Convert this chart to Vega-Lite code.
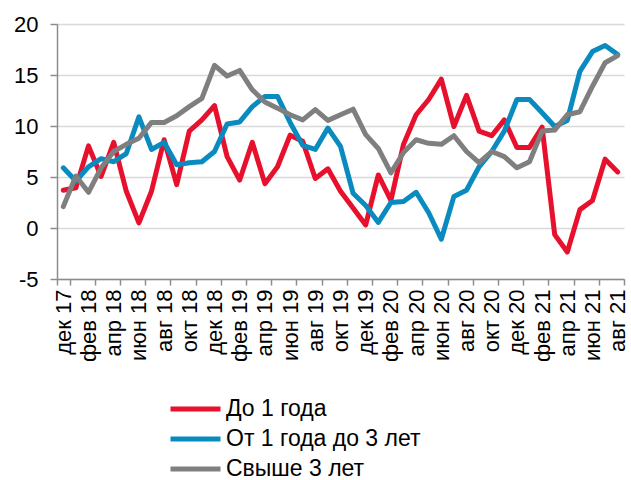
{
  "$schema": "https://vega.github.io/schema/vega-lite/v6.json",
  "width": 567,
  "height": 255,
  "autosize": {"type": "none"},
  "padding": {"left": 57, "top": 24, "right": 7, "bottom": 201},
  "config": {"view": {"stroke": null}, "font": "Liberation Sans"},
  "datasets": {
    "raw": [
      {"i":0,"m":"дек 17","a":3.7,"b":5.9,"c":2.1},
      {"i":1,"m":"янв 18","a":3.95,"b":4.6,"c":5.1},
      {"i":2,"m":"фев 18","a":8.05,"b":6.0,"c":3.5},
      {"i":3,"m":"мар 18","a":5.05,"b":6.8,"c":5.9},
      {"i":4,"m":"апр 18","a":8.4,"b":6.5,"c":7.5},
      {"i":5,"m":"май 18","a":3.6,"b":7.3,"c":8.2},
      {"i":6,"m":"июн 18","a":0.5,"b":10.9,"c":8.8},
      {"i":7,"m":"июл 18","a":3.6,"b":7.7,"c":10.35},
      {"i":8,"m":"авг 18","a":8.65,"b":8.4,"c":10.35},
      {"i":9,"m":"сен 18","a":4.25,"b":6.2,"c":11.0},
      {"i":10,"m":"окт 18","a":9.5,"b":6.4,"c":11.9},
      {"i":11,"m":"ноя 18","a":10.6,"b":6.5,"c":12.7},
      {"i":12,"m":"дек 18","a":12.0,"b":7.5,"c":15.95},
      {"i":13,"m":"янв 19","a":7.0,"b":10.2,"c":14.9},
      {"i":14,"m":"фев 19","a":4.7,"b":10.4,"c":15.45},
      {"i":15,"m":"мар 19","a":8.4,"b":11.9,"c":13.55},
      {"i":16,"m":"апр 19","a":4.35,"b":12.9,"c":12.35},
      {"i":17,"m":"май 19","a":6.0,"b":12.9,"c":11.75},
      {"i":18,"m":"июн 19","a":9.1,"b":10.35,"c":11.1},
      {"i":19,"m":"июл 19","a":8.5,"b":8.1,"c":10.6},
      {"i":20,"m":"авг 19","a":4.85,"b":7.7,"c":11.6},
      {"i":21,"m":"сен 19","a":5.8,"b":9.8,"c":10.55},
      {"i":22,"m":"окт 19","a":3.6,"b":8.0,"c":11.1},
      {"i":23,"m":"ноя 19","a":1.95,"b":3.4,"c":11.65},
      {"i":24,"m":"дек 19","a":0.3,"b":2.2,"c":9.15},
      {"i":25,"m":"янв 20","a":5.2,"b":0.55,"c":7.8},
      {"i":26,"m":"фев 20","a":2.7,"b":2.5,"c":5.4},
      {"i":27,"m":"мар 20","a":8.2,"b":2.6,"c":7.4},
      {"i":28,"m":"апр 20","a":11.1,"b":3.5,"c":8.65},
      {"i":29,"m":"май 20","a":12.6,"b":1.5,"c":8.3},
      {"i":30,"m":"июн 20","a":14.6,"b":-1.1,"c":8.2},
      {"i":31,"m":"июл 20","a":9.95,"b":3.1,"c":9.05},
      {"i":32,"m":"авг 20","a":13.0,"b":3.7,"c":7.5},
      {"i":33,"m":"сен 20","a":9.5,"b":6.0,"c":6.4},
      {"i":34,"m":"окт 20","a":9.05,"b":7.5,"c":7.5},
      {"i":35,"m":"ноя 20","a":10.6,"b":9.5,"c":7.0},
      {"i":36,"m":"дек 20","a":7.9,"b":12.6,"c":5.9},
      {"i":37,"m":"янв 21","a":7.9,"b":12.6,"c":6.5},
      {"i":38,"m":"фев 21","a":9.9,"b":11.3,"c":9.5},
      {"i":39,"m":"мар 21","a":-0.65,"b":9.95,"c":9.6},
      {"i":40,"m":"апр 21","a":-2.35,"b":10.55,"c":11.1},
      {"i":41,"m":"май 21","a":1.8,"b":15.35,"c":11.4},
      {"i":42,"m":"июн 21","a":2.7,"b":17.3,"c":13.9},
      {"i":43,"m":"июл 21","a":6.75,"b":17.9,"c":16.2},
      {"i":44,"m":"авг 21","a":5.5,"b":17.0,"c":16.9}
    ],
    "names": [
      {"k":"a","s":"До 1 года","o":0},
      {"k":"b","s":"От 1 года до 3 лет","o":1},
      {"k":"c","s":"Свыше 3 лет","o":2}
    ]
  },
  "data": {"name": "raw"},
  "transform": [
    {"fold": ["a", "b", "c"], "as": ["k", "v"]},
    {"lookup": "k", "from": {"data": {"name": "names"}, "key": "k", "fields": ["s", "o"]}}
  ],
  "mark": {"type": "line", "strokeWidth": 5, "strokeJoin": "round", "strokeCap": "round"},
  "encoding": {
    "x": {
      "field": "m",
      "type": "ordinal",
      "sort": {"field": "i"},
      "bandPosition": 0.5,
      "scale": {"type": "band", "paddingInner": 0, "paddingOuter": 0},
      "axis": {
        "title": null,
        "values": ["дек 17","фев 18","апр 18","июн 18","авг 18","окт 18","дек 18","фев 19","апр 19","июн 19","авг 19","окт 19","дек 19","фев 20","апр 20","июн 20","авг 20","окт 20","дек 20","фев 21","апр 21","июн 21","авг 21"],
        "tickBand": "extent",
        "labelAngle": -90,
        "labelAlign": "right",
        "labelBaseline": "middle",
        "labelFontSize": 22,
        "labelColor": "#000000",
        "labelPadding": 4,
        "domainColor": "#8c8c8c",
        "domainWidth": 1.5,
        "tickColor": "#8c8c8c",
        "tickWidth": 1.5,
        "tickSize": 6,
        "grid": false
      }
    },
    "y": {
      "field": "v",
      "type": "quantitative",
      "scale": {"domain": [-5, 20], "nice": false, "zero": false},
      "axis": {
        "title": null,
        "values": [-5, 0, 5, 10, 15, 20],
        "labelExpr": "'' + datum.value",
        "labelFontSize": 22,
        "labelColor": "#000000",
        "labelPadding": 12,
        "domainColor": "#8c8c8c",
        "domainWidth": 1.5,
        "tickColor": "#8c8c8c",
        "tickWidth": 1.5,
        "tickSize": 7,
        "grid": true,
        "gridColor": "#d9d9d9",
        "gridWidth": 1.5
      }
    },
    "color": {
      "field": "s",
      "type": "nominal",
      "sort": ["До 1 года", "От 1 года до 3 лет", "Свыше 3 лет"],
      "scale": {
        "domain": ["До 1 года", "От 1 года до 3 лет", "Свыше 3 лет"],
        "range": ["#e8112d", "#0a8bc0", "#7f7f80"]
      },
      "legend": {
        "title": null,
        "orient": "none",
        "legendX": 111,
        "legendY": 371,
        "symbolType": "stroke",
        "symbolSize": 2500,
        "symbolStrokeWidth": 5,
        "labelFontSize": 23,
        "labelColor": "#000000",
        "labelOffset": 3,
        "labelLimit": 400,
        "clipHeight": 28,
        "rowPadding": 2
      }
    },
    "order": {"field": "i"}
  }
}
